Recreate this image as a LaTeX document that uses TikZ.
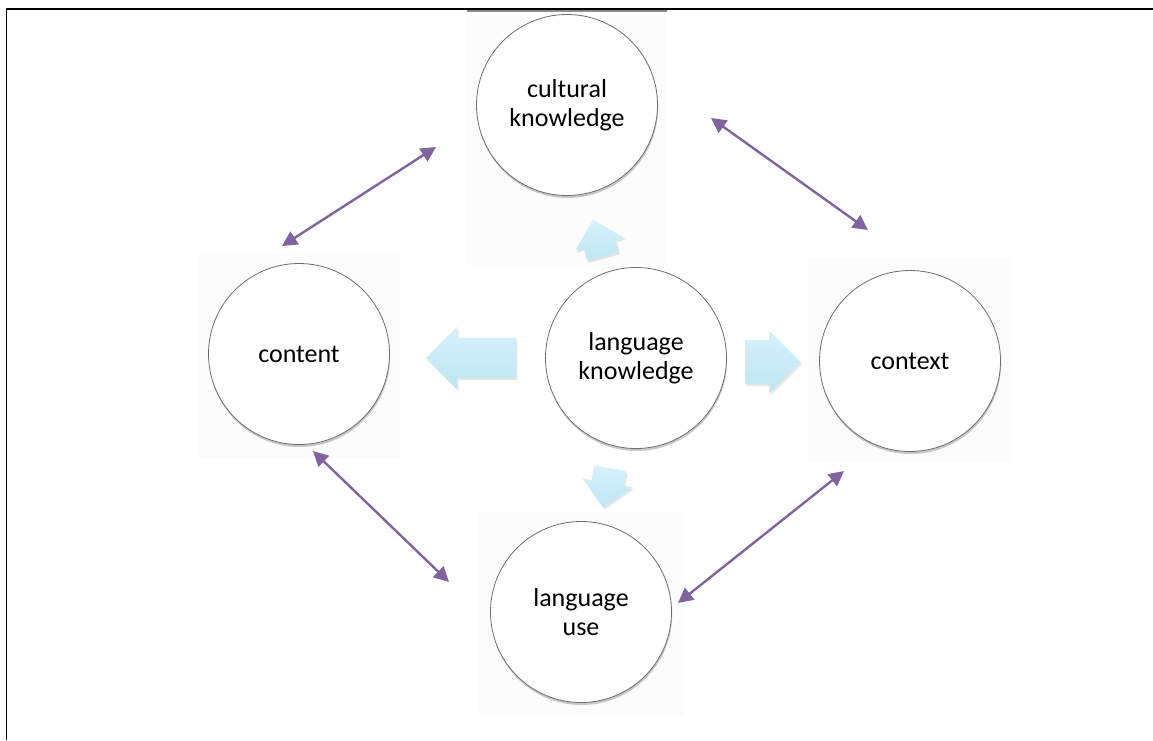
\documentclass[tikz,border=0pt]{standalone}
\usepackage{fontspec}
\setmainfont{Carlito}
\usetikzlibrary{arrows.meta,shapes.arrows,shadows}
\definecolor{lnk}{RGB}{128,100,162}
\definecolor{blk}{RGB}{214,242,250}
\definecolor{blkd}{RGB}{190,230,242}
\definecolor{rim}{RGB}{110,110,110}
\tikzset{
  bubble/.style={circle, draw=rim, line width=0.8pt, fill=white, minimum size=181pt, inner sep=0pt,
    align=center, font=\fontsize{26}{29}\selectfont,
    drop shadow={shadow xshift=0.6pt, shadow yshift=-2.5pt, opacity=0.35, fill=black!60}},
  link/.style={draw=lnk, line width=2.4pt, {Triangle[length=15pt,width=15pt]}-{Triangle[length=15pt,width=15pt]}},
  blockarrow/.style={single arrow, draw=none, top color=blk, bottom color=blkd, inner xsep=0pt,
    drop shadow={shadow xshift=1.5pt, shadow yshift=-2pt, opacity=0.2, fill=black!50}},
  faint/.style={fill=black!1.2, draw=none}
}
\begin{document}
\begin{tikzpicture}[x=1pt, y=-1pt]
\useasboundingbox (0,0) rectangle (1153,740);
% faint pasted backgrounds
\fill[faint] (467,10) rectangle (667,265);
\fill[faint] (198,252) rectangle (400,458);
\fill[faint] (808,258) rectangle (1012,462);
\fill[faint] (478,512) rectangle (684,715);
% frame
\draw[line width=1.5pt] (6.5,740) -- (6.5,9) -- (1153,9);
\draw[black!45, line width=2pt] (467,10.5) -- (667,10.5);
% circles
\node[bubble] (cult) at (567,105) {cultural\\knowledge};
\node[bubble] (lk) at (636,358) {language\\knowledge};
\node[bubble] (cont) at (299,354) {content};
\node[bubble] (ctx) at (910,361) {context};
\node[bubble] (use) at (581,612) {language\\use};
% block arrows
\node[blockarrow, rotate=180, minimum height=90pt, inner ysep=20pt, single arrow head extend=11pt] (bl) at (481,358) {};
\node[blockarrow, minimum height=55pt, inner ysep=22pt, single arrow head extend=9pt] (br) at (762,362) {};
\node[blockarrow, rotate=105, minimum height=38pt, inner ysep=16pt, single arrow head extend=9pt] (bu) at (600,246) {};
\node[blockarrow, rotate=-100, minimum height=40pt, inner ysep=16pt, single arrow head extend=9pt] (bd) at (608,480) {};
% connector end points
\coordinate (c1a) at (282,246);
\coordinate (c1b) at (436,147);
\coordinate (c2a) at (711,118);
\coordinate (c2b) at (868,230);
\coordinate (c3a) at (313,451);
\coordinate (c3b) at (449,582);
\coordinate (c4a) at (678,603);
\coordinate (c4b) at (844,471);
\draw[link] (c1a) -- (c1b);
\draw[link] (c2a) -- (c2b);
\draw[link] (c3a) -- (c3b);
\draw[link] (c4a) -- (c4b);
\end{tikzpicture}
\end{document}
